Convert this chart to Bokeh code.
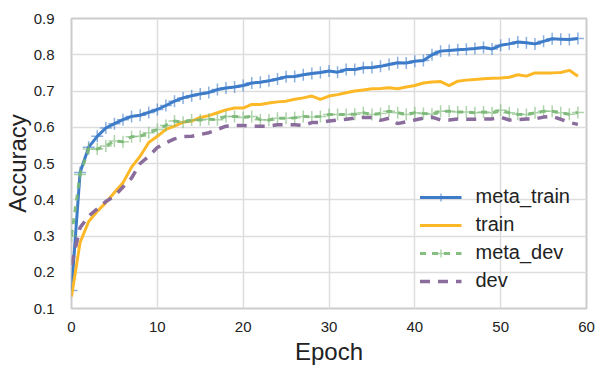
from bokeh.plotting import figure
from bokeh.embed import file_html
from bokeh.resources import INLINE
from bokeh.models import Legend, LegendItem, FixedTicker

epochs = list(range(60))

meta_train = [0.15, 0.475, 0.545, 0.575, 0.598, 0.61, 0.621, 0.63, 0.633, 0.641,
              0.649, 0.66, 0.672, 0.681, 0.687, 0.692, 0.696, 0.704, 0.708, 0.711,
              0.715, 0.722, 0.724, 0.728, 0.733, 0.739, 0.74, 0.745, 0.748, 0.751,
              0.755, 0.752, 0.759, 0.759, 0.764, 0.765, 0.768, 0.773, 0.778, 0.777,
              0.782, 0.784, 0.8, 0.81, 0.812, 0.814, 0.815, 0.817, 0.82, 0.816,
              0.826, 0.83, 0.835, 0.833, 0.83, 0.837, 0.844, 0.843, 0.842, 0.845]

train = [0.133, 0.282, 0.34, 0.368, 0.392, 0.42, 0.447, 0.49, 0.52, 0.558,
         0.575, 0.594, 0.603, 0.614, 0.617, 0.627, 0.632, 0.64, 0.648, 0.653,
         0.653, 0.663, 0.663, 0.667, 0.67, 0.672, 0.677, 0.681, 0.686, 0.677,
         0.686, 0.69, 0.695, 0.70, 0.703, 0.706, 0.707, 0.709, 0.706, 0.711,
         0.715, 0.722, 0.725, 0.726, 0.715, 0.727, 0.73, 0.732, 0.734, 0.735,
         0.736, 0.738, 0.745, 0.741, 0.75, 0.75, 0.75, 0.751, 0.757, 0.741]

meta_dev = [0.30, 0.47, 0.54, 0.54, 0.548, 0.562, 0.56, 0.574, 0.575, 0.585,
            0.594, 0.605, 0.617, 0.614, 0.62, 0.62, 0.622, 0.621, 0.63, 0.63,
            0.627, 0.63, 0.621, 0.62, 0.625, 0.625, 0.626, 0.63, 0.628, 0.63,
            0.635, 0.635, 0.635, 0.636, 0.64, 0.635, 0.638, 0.644, 0.64, 0.635,
            0.64, 0.638, 0.636, 0.644, 0.644, 0.642, 0.642, 0.64, 0.642, 0.64,
            0.647, 0.64, 0.636, 0.635, 0.64, 0.644, 0.644, 0.64, 0.636, 0.641]

dev = [0.22, 0.323, 0.355, 0.375, 0.395, 0.41, 0.435, 0.46, 0.50, 0.52,
       0.544, 0.557, 0.568, 0.574, 0.575, 0.58, 0.585, 0.594, 0.603, 0.605,
       0.605, 0.603, 0.603, 0.603, 0.607, 0.607, 0.607, 0.605, 0.613, 0.613,
       0.617, 0.62, 0.622, 0.625, 0.627, 0.627, 0.619, 0.625, 0.61, 0.615,
       0.62, 0.625, 0.628, 0.62, 0.62, 0.623, 0.622, 0.622, 0.623, 0.623,
       0.628, 0.62, 0.621, 0.623, 0.623, 0.628, 0.63, 0.622, 0.613, 0.608]

x_ticks = [0, 10, 20, 30, 40, 50, 60]
y_ticks = [0.1, 0.2, 0.3, 0.4, 0.5, 0.6, 0.7, 0.8, 0.9]

BLUE = "#3d7cc9"
ORANGE = "#fdb827"
GREEN = "#7ab874"
PURPLE = "#8a6d9c"
FONT = "Liberation Sans"

p = figure(frame_width=515, frame_height=290, output_backend="svg", toolbar_location=None,
           x_range=(0, 60), y_range=(0.1, 0.9),
           min_border_left=64, min_border_right=11, min_border_top=18, min_border_bottom=51)

p.outline_line_color = "#cccccc"
p.outline_line_width = 2
p.background_fill_color = "white"
p.border_fill_color = "white"

for ax in (p.xaxis[0], p.yaxis[0]):
    ax.axis_line_color = None
    ax.major_tick_line_color = None
    ax.minor_tick_line_color = None
    ax.major_label_text_font = FONT
    ax.major_label_text_font_size = "15px"
    ax.major_label_text_color = "#222222"
    ax.axis_label_text_font = FONT
    ax.axis_label_text_font_size = "24px"
    ax.axis_label_text_font_style = "normal"
    ax.axis_label_text_color = "#222222"

p.xaxis[0].ticker = FixedTicker(ticks=x_ticks)
p.yaxis[0].ticker = FixedTicker(ticks=y_ticks)
p.xaxis[0].axis_label = "Epoch"
p.yaxis[0].axis_label = "Accuracy"
p.xaxis[0].major_label_standoff = 7
p.yaxis[0].major_label_standoff = 11
p.xaxis[0].axis_label_standoff = 3
p.yaxis[0].axis_label_standoff = 0

p.grid.grid_line_color = "#dddddd"
p.grid.grid_line_width = 1.5

r1 = p.line(epochs, meta_train, line_color=BLUE, line_width=3)
r1m = p.scatter(epochs, meta_train, marker="cross", size=12, line_color=BLUE, line_width=1.5, line_alpha=0.6)
r2 = p.line(epochs, train, line_color=ORANGE, line_width=3)
r3 = p.line(epochs, meta_dev, line_color=GREEN, line_width=3, line_dash="6 6", line_alpha=0.9)
r3m = p.scatter(epochs, meta_dev, marker="cross", size=12, line_color=GREEN, line_width=1.5, line_alpha=0.6)
r4 = p.line(epochs, dev, line_color=PURPLE, line_width=3.5, line_dash="10 8")

legend = Legend(items=[
    LegendItem(label="meta_train", renderers=[r1, r1m]),
    LegendItem(label="train", renderers=[r2]),
    LegendItem(label="meta_dev", renderers=[r3, r3m]),
    LegendItem(label="dev", renderers=[r4]),
], location="bottom_right")
legend.border_line_color = None
legend.background_fill_alpha = 0
legend.label_text_font = FONT
legend.label_text_font_size = "20px"
legend.label_text_color = "#222222"
legend.glyph_width = 42
legend.label_standoff = 14
legend.spacing = 5
legend.label_height = 22
legend.margin = 16
p.add_layout(legend)

open("out.html", "w").write(file_html(p, INLINE))
